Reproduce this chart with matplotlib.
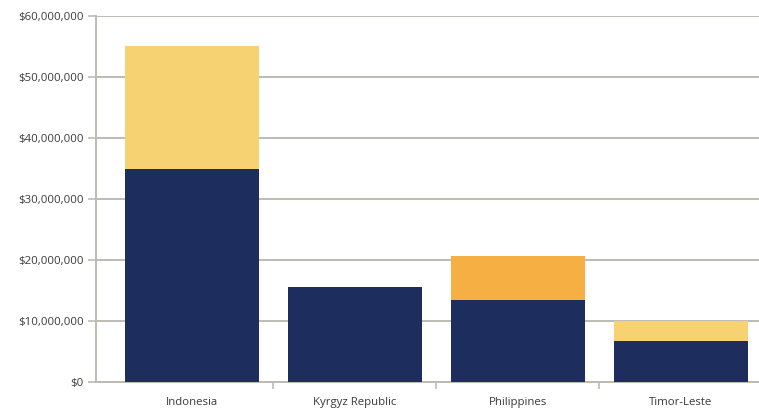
"""
Stacked funding bars by country.
"""
import matplotlib
matplotlib.use('Agg')
import matplotlib.pyplot as plt
import matplotlib.ticker as mticker
import numpy as np

countries = ['Indonesia', 'Kyrgyz Republic', 'Philippines', 'Timor-Leste']
base_funds = [34.9e6, 15.6e6, 13.4e6, 6.7e6]
yellow_funds = [20.2e6, 0, 0, 3.3e6]
orange_funds = [0, 0, 7.2e6, 0]

NAVY = '#1C2D5E'
YELLOW = '#F7D272'
ORANGE = '#F5AF42'
GRID = '#BDBBB1'
TEXT = '#3A3A3A'

plt.rcParams['font.family'] = ['Open Sans', 'DejaVu Sans']

fig = plt.figure(figsize=(7.59, 4.08), dpi=100)
ax = fig.add_axes([0.1265, 0.0645, 0.8735, 0.8965])

x = np.arange(len(countries))
w = 0.82
base = np.array(base_funds)
ax.bar(x, base, w, color=NAVY, zorder=3)
ax.bar(x, yellow_funds, w, bottom=base, color=YELLOW, zorder=3)
ax.bar(x, orange_funds, w, bottom=base + np.array(yellow_funds), color=ORANGE, zorder=3)

ax.set_ylim(0, 60e6)
ax.set_xlim(-0.589, 3.48)
ax.yaxis.set_major_locator(mticker.MultipleLocator(10e6))
ax.yaxis.set_major_formatter(mticker.FuncFormatter(lambda v, _: f'${v:,.0f}'))
ax.grid(axis='y', color=GRID, linewidth=1.4, zorder=0)

ax.set_xticks(x)
ax.set_xticklabels(countries)
ax.set_xticks([0.5, 1.5, 2.5], minor=True)
ax.tick_params(axis='x', which='major', length=0, pad=11, labelsize=8.2, colors=TEXT)
ax.tick_params(axis='x', which='minor', length=5, width=1.2, color=GRID)
ax.tick_params(axis='y', length=6, width=1.2, color=GRID, pad=3, labelsize=8.2, labelcolor=TEXT)

for s in ['top', 'right']:
    ax.spines[s].set_visible(False)
ax.spines['left'].set_color(GRID)
ax.spines['left'].set_linewidth(1.4)
ax.spines['bottom'].set_color(GRID)
ax.spines['bottom'].set_linewidth(1.4)

fig.savefig('out.png', dpi=100)
